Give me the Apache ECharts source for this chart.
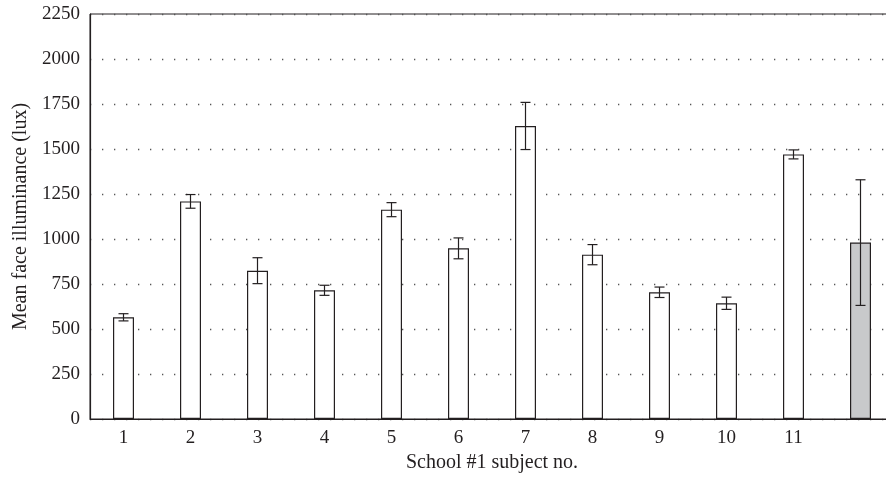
<!DOCTYPE html>
<html><head><meta charset="utf-8">
<script src="https://cdn.jsdelivr.net/npm/echarts@6/dist/echarts.min.js"></script>
<style>html,body{margin:0;padding:0;background:#fff;overflow:hidden}#c{width:886px;height:477px}</style>
</head><body><div id="c"></div>
<script>
const categories = ['1','2','3','4','5','6','7','8','9','10','11',''];
const means = [565, 1209, 824, 715, 1163, 948, 1628, 913, 704, 643, 1470, 980];
const errors = [20, 38, 72, 28, 39, 58, 131, 56, 29, 34, 25, 349];
const yTicks = [0, 250, 500, 750, 1000, 1250, 1500, 1750, 2000, 2250];

const ink = '#231f20';
const font = 'Liberation Serif';
const chart = echarts.init(document.getElementById('c'), null, {renderer: 'canvas'});

const barData = means.map((v, i) => ({
  value: v,
  itemStyle: { color: i === means.length - 1 ? '#c8c9cb' : '#ffffff' }
}));
const errData = means.map((v, i) => [i, v - errors[i], v + errors[i]]);

chart.setOption({
  animation: false,
  grid: { left: 90, top: 14, width: 804, bottom: 58, containLabel: false, outerBoundsMode: 'none',
    show: true, borderColor: ink, borderWidth: 1, backgroundColor: 'transparent' },
  xAxis: {
    type: 'category', data: categories,
    name: 'School #1 subject no.', nameLocation: 'middle', nameGap: 32,
    nameTextStyle: { fontFamily: font, fontSize: 20, color: ink },
    axisLine: { lineStyle: { color: ink, width: 1.2 } },
    axisTick: { show: false },
    axisLabel: { fontFamily: font, fontSize: 19, color: ink, margin: 10 },
    splitLine: { show: false }
  },
  yAxis: {
    type: 'value', min: 0, max: 2250, interval: 250,
    name: 'Mean face illuminance (lux)', nameLocation: 'middle', nameGap: 59,
    nameTextStyle: { fontFamily: font, fontSize: 20, color: ink },
    axisLine: { show: true, lineStyle: { color: ink, width: 1.2 } },
    axisTick: { show: false },
    axisLabel: { fontFamily: font, fontSize: 19, color: ink, margin: 10,
      formatter: v => yTicks.includes(v) ? String(v) : '' },
    splitLine: { show: true, lineStyle: { color: '#555', width: 1.3, type: [1.3, 10.7] } }
  },
  series: [
    {
      type: 'bar', data: barData, barWidth: 21,
      itemStyle: { borderColor: ink, borderWidth: 1.2 }
    },
    {
      type: 'custom', data: errData, z: 10,
      renderItem: function (params, api) {
        const x = api.value(0);
        const lo = api.coord([x, api.value(1)]);
        const hi = api.coord([x, api.value(2)]);
        const cap = 5;
        const style = { stroke: ink, lineWidth: 1.2 };
        return { type: 'group', children: [
          { type: 'line', shape: { x1: lo[0], y1: lo[1], x2: hi[0], y2: hi[1] }, style },
          { type: 'line', shape: { x1: lo[0] - cap, y1: lo[1], x2: lo[0] + cap, y2: lo[1] }, style },
          { type: 'line', shape: { x1: hi[0] - cap, y1: hi[1], x2: hi[0] + cap, y2: hi[1] }, style }
        ]};
      }
    }
  ]
});
</script></body></html>
